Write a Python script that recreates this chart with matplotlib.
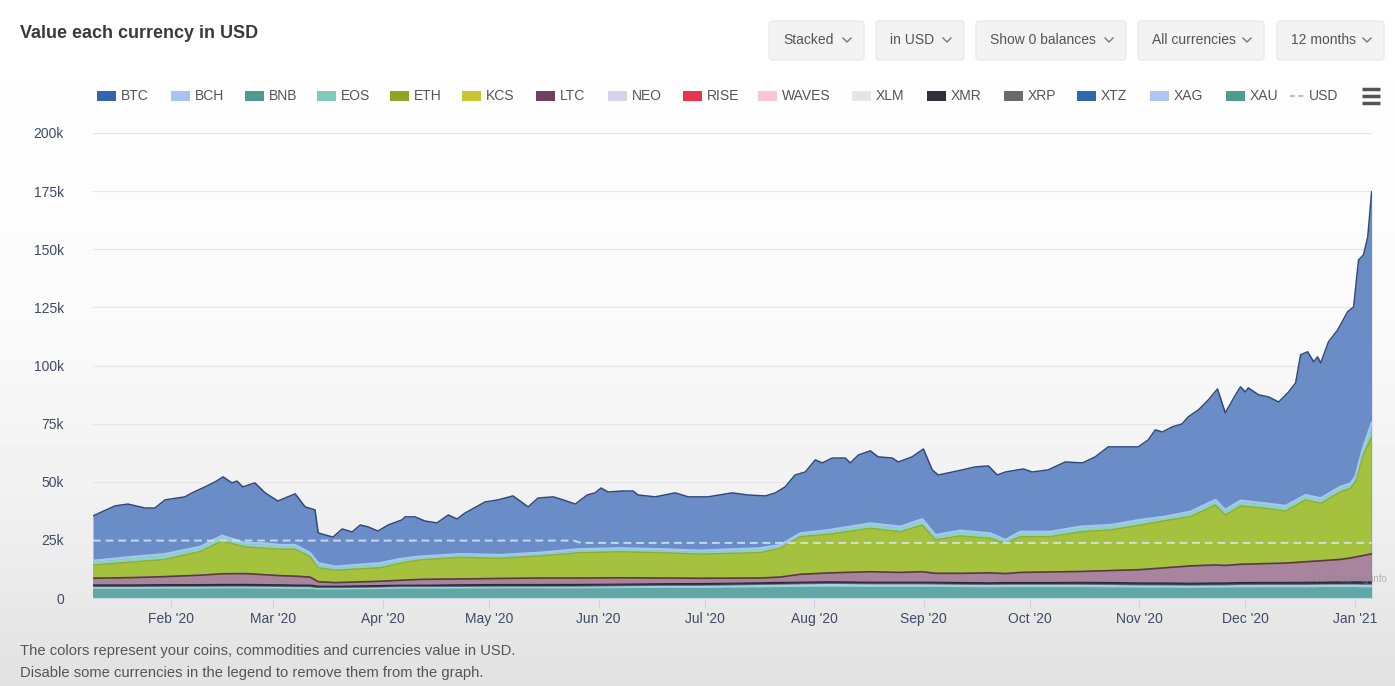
import numpy as np
import pandas as pd
import matplotlib
matplotlib.use('Agg')
import matplotlib.pyplot as plt
import matplotlib.dates as mdates
from matplotlib.patches import Rectangle, FancyBboxPatch
from matplotlib.ticker import FuncFormatter

plt.rcParams['font.family'] = ['Liberation Sans', 'DejaVu Sans']
NARROW = ['Liberation Sans Narrow', 'Liberation Sans', 'DejaVu Sans']

# days are counted from the first day on the chart
start = pd.Timestamp('2020-01-10')

# upper outline of the whole stack (BTC is the top layer), k USD
top_days = [0.0, 6.2, 9.9, 14.7, 17.5, 20.4, 26.0, 28.0, 31.7, 34.5,
            36.8, 39.3, 40.7, 42.4, 45.8, 48.7, 52.3, 54.3, 57.2, 60.0,
            62.8, 63.7, 65.7, 67.9, 70.5, 73.3, 75.6, 77.8, 80.6, 83.5,
            87.4, 88.3, 91.1, 93.9, 97.3, 100.5, 103.0, 105.3, 110.9, 114.6,
            118.8, 123.1, 125.9, 130.2, 133.0, 136.4, 139.8, 142.0, 143.7, 145.7,
            149.7, 152.8, 154.2, 159.0, 164.7, 168.4, 174.0, 180.8, 185.3, 190.2,
            193.0, 195.8, 198.6, 201.5, 204.3, 206.3, 209.1, 212.8, 214.2, 216.5,
            219.9, 222.1, 226.1, 227.8, 231.7, 234.9, 237.4, 239.1, 241.9, 245.9,
            249.6, 253.3, 255.8, 258.1, 263.2, 265.7, 270.2, 275.0, 279.9, 283.5,
            287.2, 291.2, 295.7, 298.5, 300.5, 302.5, 305.3, 308.1, 309.8, 312.7,
            315.5, 318.1, 320.3, 323.2, 324.6, 326.0, 326.8, 329.7, 332.5, 335.4,
            338.2, 340.2, 341.6, 343.6, 345.3, 346.4, 347.3, 349.5, 352.1, 354.9,
            356.6, 358.0, 359.4, 360.6, 361.7]
total_usd = [35.3, 39.6, 40.4, 38.7, 38.7, 42.2, 43.5, 45.2, 47.8, 49.9,
             52.1, 49.5, 50.3, 47.8, 49.5, 45.2, 41.7, 43.0, 44.8, 39.2,
             37.9, 28.0, 27.1, 26.2, 29.7, 28.4, 31.4, 30.6, 28.8, 31.4,
             33.6, 34.9, 34.9, 33.1, 32.3, 35.7, 34.0, 36.6, 41.3, 42.2,
             43.9, 39.2, 43.0, 43.5, 42.2, 40.4, 44.3, 45.2, 47.3, 45.6,
             46.0, 46.0, 44.3, 43.5, 45.2, 43.5, 43.5, 45.2, 44.3, 43.9,
             45.2, 47.8, 52.9, 54.2, 59.4, 58.1, 60.2, 60.2, 58.1, 61.5,
             63.3, 60.7, 60.2, 58.5, 60.7, 64.1, 55.1, 52.9, 53.8, 55.1,
             56.4, 56.8, 52.9, 54.2, 55.5, 54.2, 55.1, 58.5, 58.1, 60.7,
             65.0, 65.0, 65.0, 68.0, 72.3, 71.4, 73.6, 74.9, 77.9, 80.9,
             85.2, 89.9, 79.6, 87.4, 90.8, 88.6, 90.4, 87.4, 86.5, 84.3,
             88.6, 92.5, 104.6, 105.9, 101.6, 103.7, 101.1, 110.2, 115.3, 123.1,
             125.2, 145.4, 147.6, 155.3, 174.7]

# the layers under BTC, k USD
low_days = [0.0, 11.9, 20.4, 30.3, 36.5, 43.0, 48.7, 52.9, 57.2, 61.4,
            63.7, 68.5, 81.2, 86.9, 92.5, 103.8, 115.1, 126.5, 137.8, 149.1,
            160.5, 171.8, 188.7, 194.4, 200.1, 208.5, 219.9, 228.4, 234.6, 238.3,
            245.3, 253.8, 258.1, 262.3, 270.8, 279.3, 287.8, 296.3, 303.3, 310.4,
            317.5, 320.3, 324.6, 331.7, 337.3, 343.0, 347.3, 352.9, 355.7, 357.1,
            359.1, 361.7]
xau = [4.2, 4.2, 4.3, 4.3, 4.4, 4.4, 4.3, 4.3, 4.2, 4.2,
       3.9, 3.9, 4.1, 4.3, 4.3, 4.3, 4.4, 4.4, 4.4, 4.5,
       4.6, 4.6, 4.8, 4.9, 5.0, 5.1, 5.0, 5.0, 5.0, 5.0,
       4.9, 4.8, 4.9, 4.9, 4.9, 4.9, 4.8, 4.7, 4.7, 4.6,
       4.7, 4.7, 4.8, 4.8, 4.8, 4.8, 4.9, 4.9, 4.9, 4.9,
       4.8, 4.8]
xag = [0.5, 0.5, 0.5, 0.5, 0.5, 0.5, 0.5, 0.45, 0.45, 0.45,
       0.35, 0.35, 0.4, 0.4, 0.4, 0.45, 0.45, 0.45, 0.5, 0.55,
       0.6, 0.65, 0.8, 0.85, 0.9, 0.95, 0.9, 0.9, 0.9, 0.85,
       0.8, 0.8, 0.8, 0.8, 0.8, 0.8, 0.8, 0.75, 0.75, 0.75,
       0.75, 0.75, 0.8, 0.85, 0.85, 0.85, 0.85, 0.9, 0.9, 0.9,
       0.9, 0.9]
xrp = [0.25, 0.25, 0.25, 0.25, 0.25, 0.25, 0.25, 0.25, 0.25, 0.25,
       0.25, 0.25, 0.25, 0.25, 0.25, 0.25, 0.25, 0.25, 0.25, 0.25,
       0.25, 0.25, 0.25, 0.25, 0.25, 0.25, 0.25, 0.25, 0.25, 0.25,
       0.25, 0.25, 0.25, 0.25, 0.25, 0.25, 0.25, 0.25, 0.25, 0.25,
       0.25, 0.25, 0.25, 0.25, 0.25, 0.25, 0.25, 0.25, 0.25, 0.25,
       0.25, 0.25]
xmr = [0.7, 0.7, 0.7, 0.7, 0.7, 0.7, 0.7, 0.7, 0.7, 0.7,
       0.6, 0.6, 0.6, 0.6, 0.6, 0.7, 0.7, 0.7, 0.7, 0.7,
       0.7, 0.7, 0.7, 0.7, 0.7, 0.7, 0.7, 0.7, 0.7, 0.7,
       0.7, 0.7, 0.7, 0.7, 0.7, 0.8, 0.8, 0.8, 0.8, 0.8,
       0.8, 0.8, 0.8, 0.8, 0.8, 0.9, 0.9, 0.9, 0.9, 1.0,
       1.0, 1.0]
xlm = [0.3, 0.3, 0.3, 0.3, 0.3, 0.3, 0.3, 0.3, 0.3, 0.3,
       0.3, 0.3, 0.3, 0.3, 0.3, 0.3, 0.3, 0.3, 0.3, 0.3,
       0.3, 0.3, 0.3, 0.3, 0.3, 0.3, 0.3, 0.3, 0.3, 0.3,
       0.3, 0.3, 0.3, 0.3, 0.3, 0.3, 0.3, 0.3, 0.3, 0.3,
       0.3, 0.3, 0.3, 0.3, 0.3, 0.3, 0.3, 0.3, 0.3, 0.3,
       0.3, 0.3]
ltc = [2.55, 2.85, 3.15, 3.75, 4.25, 4.35, 3.95, 3.6, 3.5, 3.1,
       1.6, 1.2, 1.55, 1.75, 2.15, 2.2, 2.3, 2.5, 2.45, 2.4,
       2.15, 2.0, 1.75, 2.0, 3.05, 3.5, 4.15, 3.85, 4.15, 3.5,
       3.65, 3.95, 3.55, 4.05, 4.25, 4.35, 4.85, 5.4, 6.2, 7.1,
       7.4, 7.2, 7.55, 7.8, 8.0, 8.5, 8.8, 9.35, 9.95, 10.25,
       10.95, 11.75]
kcs = [0.3, 0.3, 0.3, 0.3, 0.3, 0.3, 0.3, 0.3, 0.3, 0.3,
       0.3, 0.3, 0.3, 0.3, 0.3, 0.3, 0.3, 0.3, 0.3, 0.3,
       0.3, 0.3, 0.3, 0.3, 0.3, 0.3, 0.3, 0.3, 0.3, 0.3,
       0.3, 0.3, 0.3, 0.3, 0.3, 0.3, 0.3, 0.3, 0.3, 0.3,
       0.3, 0.3, 0.3, 0.3, 0.3, 0.3, 0.3, 0.4, 0.4, 0.4,
       0.5, 0.5]
eth = [5.4, 6.5, 7.1, 9.9, 13.8, 11.2, 11.1, 11.1, 11.3, 8.5,
       5.7, 5.1, 5.5, 7.1, 8.1, 9.0, 8.4, 9.2, 10.6, 10.9,
       10.6, 10.1, 10.6, 12.1, 15.9, 16.4, 18.4, 17.2, 19.8, 14.1,
       15.8, 14.6, 12.7, 15.1, 14.9, 16.8, 17.2, 18.9, 20.0, 20.9,
       25.5, 21.4, 24.8, 23.5, 22.1, 26.3, 24.4, 28.7, 29.6, 32.0,
       42.1, 49.9]
eos = [1.3, 1.7, 1.8, 1.5, 1.8, 1.2, 1.6, 1.3, 1.3, 1.1,
       1.5, 1.0, 1.5, 1.3, 0.9, 0.9, 0.9, 0.9, 1.0, 1.0,
       1.0, 1.0, 1.4, 0.9, 0.9, 1.3, 1.6, 1.7, 2.0, 1.6,
       1.8, 1.6, 1.0, 1.6, 1.6, 1.7, 1.6, 1.7, 1.2, 1.6,
       1.7, 1.7, 1.8, 1.6, 1.7, 1.6, 1.7, 1.7, 1.5, 1.7,
       2.1, 4.4]
bch = [0.5, 0.5, 0.5, 0.5, 0.5, 0.5, 0.5, 0.5, 0.5, 0.5,
       0.5, 0.5, 0.5, 0.5, 0.5, 0.5, 0.5, 0.5, 0.5, 0.5,
       0.5, 0.5, 0.5, 0.5, 0.5, 0.5, 0.5, 0.5, 0.5, 0.5,
       0.5, 0.5, 0.5, 0.5, 0.5, 0.5, 0.5, 0.5, 0.5, 0.5,
       0.5, 0.5, 0.5, 0.5, 0.5, 0.5, 0.5, 0.5, 0.5, 0.5,
       0.8, 1.5]

# USD balance, drawn as a dashed line
usd_days = [0, 136, 138, 361.7]
usd_vals = [24.7, 24.7, 23.7, 23.7]

legend_names = ['BTC', 'BCH', 'BNB', 'EOS', 'ETH', 'KCS', 'LTC', 'NEO', 'RISE',
                'WAVES', 'XLM', 'XMR', 'XRP', 'XTZ', 'XAG', 'XAU']
legend_colors = ['#3563ad', '#a6c4f2', '#4f9a8e', '#7fcbb7', '#8da424', '#c8c631',
                 '#6f4060', '#d3d3ea', '#e8344a', '#f7c6d3', '#e5e5e5', '#2f2f37',
                 '#6b6b6e', '#2f66b0', '#abc6f0', '#4f9b8f']
buttons = ['Stacked', 'in USD', 'Show 0 balances', 'All currencies', '12 months']

layers = [xau, xag, xrp, xmr, xlm, ltc, kcs, eth, eos, bch]
layer_fill = ['#5fa8a6', '#b0cdef', '#7a7a7a', '#3b3b48', '#e6e6e6',
              '#a8849f', '#cbc83a', '#a5c23f', '#8dd3c4', '#aac8f0']
for l in layers:
    assert len(l) == len(low_days)
assert len(top_days) == len(total_usd)

W, H = 1395, 686
fig = plt.figure(figsize=(W / 100, H / 100), dpi=100)

# faint grey shading of the screenshot
bg = fig.add_axes([0, 0, 1, 1], zorder=-10)
shade = np.interp(np.arange(H), [0, 300, 480, H], [1.0, 0.985, 0.95, 0.885])
bg.imshow(np.repeat(shade[:, None], 2, axis=1), cmap='gray', vmin=0, vmax=1,
          aspect='auto', extent=[0, 1, 0, 1])
bg.axis('off')

ax = fig.add_axes([93 / W, 1 - 598 / H, (1372 - 93) / W, (598 - 133) / H], zorder=1)
ax.patch.set_alpha(0)

top_x = start + pd.to_timedelta(top_days, unit='D')
low_x = start + pd.to_timedelta(low_days, unit='D')
usd_x = start + pd.to_timedelta(usd_days, unit='D')

total = np.array(total_usd) * 1000
ax.fill_between(top_x, 0, total, color='#6b8dc7', lw=0, zorder=1)
ax.plot(top_x, total, color='#2f4a78', lw=1.1, zorder=4)

vals = np.array(layers) * 1000
ax.stackplot(low_x, *vals, colors=layer_fill, lw=0, zorder=2)
cum = np.cumsum(vals, axis=0)
ax.plot(low_x, cum[0], color='#9fd3d3', lw=0.8, zorder=3)
ax.plot(low_x, cum[3], color='#2a2a35', lw=0.9, zorder=3)
ax.plot(low_x, cum[5], color='#5a3a3e', lw=1.2, zorder=3)
ax.plot(low_x, cum[7], color='#90ad33', lw=1.0, zorder=3)
ax.plot(low_x, cum[9], color='#a3c8ee', lw=1.6, zorder=3)

ax.plot(usd_x, np.array(usd_vals) * 1000, color='#d6e6f5', lw=1.4,
        dashes=(4, 2.5), alpha=0.85, zorder=5)

ax.set_ylim(0, 200000)
ax.set_xlim(start, start + pd.Timedelta(days=361.8))
ax.set_yticks(np.arange(0, 200001, 25000))
ax.yaxis.set_major_formatter(FuncFormatter(lambda v, p: '0' if v == 0 else '%dk' % (v / 1000)))
ax.xaxis.set_major_locator(mdates.MonthLocator(bymonthday=1))
ax.xaxis.set_major_formatter(mdates.DateFormatter("%b '%y"))
ax.tick_params(axis='y', length=0, pad=21, labelsize=10, labelcolor='#414a66')
ax.tick_params(axis='x', length=7, width=0.8, color='#ccd6eb', pad=3,
               labelsize=10, labelcolor='#414a66')
ax.yaxis.grid(True, color='#e6e6e6', lw=0.9)
ax.set_axisbelow(True)
for s in ['top', 'right', 'left']:
    ax.spines[s].set_visible(False)
ax.spines['bottom'].set_color('#ccd6eb')

# overlay in pixel coordinates for the title, buttons, legend and notes
ov = fig.add_axes([0, 0, 1, 1], zorder=5)
ov.set_xlim(0, W)
ov.set_ylim(H, 0)
ov.axis('off')
ov.patch.set_alpha(0)

ov.text(20, 33, 'Value each currency in USD', fontsize=13, fontweight='bold',
        color='#3a3a3a', va='center')

btn_x = [(769, 864), (876, 964), (976, 1126), (1138, 1264), (1277, 1384)]
for label, (x0, x1) in zip(buttons, btn_x):
    ov.add_patch(FancyBboxPatch((x0, 21), x1 - x0, 39,
                                boxstyle='round,pad=0,rounding_size=3',
                                fc='#f3f3f3', ec='#e6e6e6', lw=0.8))
    ov.text(x0 + 14, 40, label, fontsize=10, color='#555555', va='center',
            family=NARROW)
    cx = x1 - 17
    ov.plot([cx - 4, cx, cx + 4], [38, 42, 38], color='#777777', lw=1)

legend_x = [97, 171, 245, 317, 390, 462, 536, 608, 683, 758,
            852, 927, 1004, 1077, 1150, 1226]
for name, col, lx in zip(legend_names, legend_colors, legend_x):
    ov.add_patch(Rectangle((lx, 91), 19, 10, fc=col, ec='none'))
    ov.text(lx + 24, 96, name, fontsize=10, color='#555555', va='center',
            family=NARROW)
ov.plot([1290, 1305], [96, 96], color='#8fb8d8', lw=1.2, dashes=(3, 2))
ov.text(1309, 96, 'USD', fontsize=10, color='#555555', va='center', family=NARROW)
for hy in (89, 96, 103):
    ov.plot([1362, 1380], [hy, hy], color='#555555', lw=2.5, solid_capstyle='butt')

ov.text(1387, 579, 'CoinTracking.info', ha='right', va='center', fontsize=7,
        color='#8a8a8a', alpha=0.6)

ov.text(20, 651, 'The colors represent your coins, commodities and currencies value in USD.',
        fontsize=10.6, color='#555555', va='center')
ov.text(20, 673, 'Disable some currencies in the legend to remove them from the graph.',
        fontsize=10.6, color='#555555', va='center')

fig.savefig('out.png', dpi=100)
